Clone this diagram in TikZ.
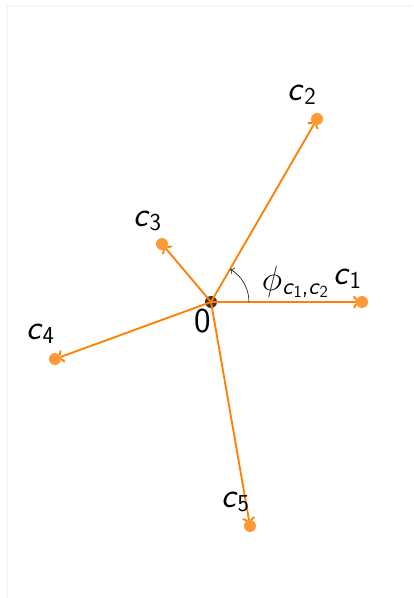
\documentclass[tikz,border=0pt]{standalone}
\usetikzlibrary{arrows.meta,positioning,calc}
\newcommand{\cvec}[1]{\textit{c}\raisebox{-0.3ex}{\LARGE #1}}
\newcommand{\csub}[1]{\textit{c}\raisebox{-0.25ex}{\large #1}}

\begin{document}
\begin{tikzpicture}[font=\Huge\sffamily,
  vec/.style={-{To[length=2.2mm,width=3.2mm]}, draw=orange, line width=1.3pt},
  tip/.style={circle, fill=orange!80, inner sep=0pt, minimum size=3mm},
  lbl/.style={inner sep=1pt}]
  \useasboundingbox (-5.275,-7.4) rectangle (5.05,7.55);
  % faint frame
  \draw[blue!4, line width=0.8pt] (-5.1,-7.4) -- (-5.1,7.4) -- (5.05,7.4);
  % origin
  \node[circle, fill=black!80, inner sep=0pt, minimum size=3mm] (o) at (0,0) {};
  \node[lbl] (olbl) at (-0.2,-0.47) {0};
  % points
  \coordinate (c1) at (3.775,0);
  \coordinate (c2) at (2.65,4.575);
  \coordinate (c3) at (-1.225,1.45);
  \coordinate (c4) at (-3.9,-1.425);
  \coordinate (c5) at (0.975,-5.6);
  \foreach \p in {c1,c2,c3,c4,c5}
    \draw[vec] (o.center) -- (\p);
  \foreach \p in {c1,c2,c3,c4,c5}
    \node[tip] (\p dot) at (\p) {};
  % labels
  \node[lbl] (c1lbl) at (3.4,0.58) {\cvec{1}};
  \node[lbl] (c2lbl) at (2.27,5.18) {\cvec{2}};
  \node[lbl] (c3lbl) at (-1.6,2.03) {\cvec{3}};
  \node[lbl] (c4lbl) at (-4.27,-0.8) {\cvec{4}};
  \node[lbl] (c5lbl) at (0.6,-5.0) {\cvec{5}};
  % angle
  \draw[->, thin] (0.95,0) arc[start angle=0, end angle=59.5, radius=0.95];
  \node[lbl] (phi) at (2.1,0.5) {$\phi$\raisebox{-0.3ex}{\LARGE\csub{1},\csub{2}}};
\end{tikzpicture}
\end{document}
